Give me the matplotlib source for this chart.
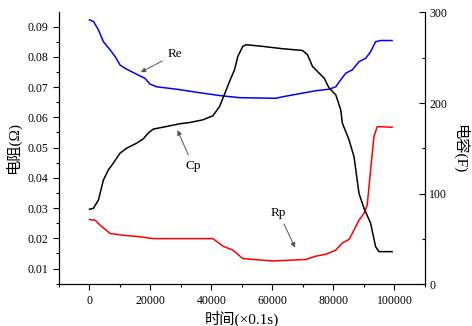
import matplotlib
matplotlib.use("Agg")
import matplotlib.pyplot as plt
from matplotlib.ticker import MultipleLocator, FormatStrFormatter

plt.rcParams['font.family'] = ['Liberation Serif', 'Noto Sans CJK SC']

# time (x0.1 s) and resistances (ohm)
t_re = [0, 1300, 2940, 4570, 6760, 8390, 10020, 11650, 14360, 16550, 18180, 19820,
        22000, 28530, 35050, 42660, 49190, 61160, 63330, 69840, 74220, 78560, 80740,
        82380, 84010, 86170, 88350, 90540, 92170, 93800, 95430, 99220]
re = [0.0922, 0.0917, 0.0889, 0.0850, 0.0823, 0.0801, 0.0773, 0.0762, 0.0748, 0.0737,
      0.0729, 0.0710, 0.0701, 0.0693, 0.0683, 0.0672, 0.0665, 0.0663, 0.0668, 0.0680,
      0.0688, 0.0693, 0.0701, 0.0724, 0.0746, 0.0757, 0.0784, 0.0795, 0.0817, 0.0850,
      0.0854, 0.0854]

t_rp = [0, 1860, 3500, 6760, 11100, 16550, 20890, 40470, 43730, 46990, 50260, 60050,
        70950, 74220, 77480, 80740, 82900, 85090, 86720, 88350, 89980, 91060, 92170,
        93250, 94330, 95960, 99220]
rp = [0.0262, 0.0260, 0.0243, 0.0216, 0.0210, 0.0205, 0.0199, 0.0199, 0.0174, 0.0161,
      0.0133, 0.0125, 0.0130, 0.0141, 0.0147, 0.0161, 0.0185, 0.0196, 0.0227, 0.0260,
      0.0282, 0.0310, 0.0426, 0.0536, 0.0569, 0.0569, 0.0567]

# capacitance (F)
t_cp = [0, 1300, 2940, 4570, 6200, 7830, 10020, 12210, 15470, 17620, 19260, 20890,
        25260, 29600, 32870, 37210, 40470, 42660, 44840, 45920, 47550, 48630, 50260,
        51370, 56790, 63320, 69840, 71480, 73110, 74740, 76930, 78560, 80740, 82380,
        82900, 85090, 86720, 88350, 89980, 92170, 93800, 94880, 99220]
cp = [82.8, 83.9, 93.1, 115.2, 126.3, 133.7, 144.7, 150.2, 155.7, 160.5, 166.8, 171.2,
      174.1, 177.1, 178.5, 181.5, 185.9, 196.2, 214.6, 223.8, 236.7, 251.4, 262.5,
      264.3, 262.5, 259.9, 258.0, 253.3, 240.4, 234.8, 227.5, 216.5, 209.1, 192.5,
      177.8, 159.4, 140.9, 100.5, 84.0, 67.4, 41.5, 36.0, 36.0]

fig = plt.figure(figsize=(4.72, 3.26), dpi=100)
ax = fig.add_axes([0.125, 0.128, 0.7754, 0.834])
ax2 = ax.twinx()

ax.plot(t_re, re, color='#0000ff', lw=1.1)
ax.plot(t_rp, rp, color='#ff0000', lw=1.1)
ax2.plot(t_cp, cp, color='black', lw=1.1)

ax.set_xlim(-10000, 110000)
ax.set_ylim(0.0048, 0.0947)
ax2.set_ylim(0, 300)

ax.xaxis.set_minor_locator(MultipleLocator(10000))
ax.set_xticks([0, 20000, 40000, 60000, 80000, 100000])
ax.yaxis.set_major_locator(MultipleLocator(0.01))
ax.yaxis.set_minor_locator(MultipleLocator(0.005))
ax.yaxis.set_major_formatter(FormatStrFormatter('%.2f'))
ax2.yaxis.set_major_locator(MultipleLocator(100))
ax2.yaxis.set_minor_locator(MultipleLocator(50))

for a in (ax, ax2):
    a.spines['top'].set_visible(False)
    a.tick_params(labelsize=8.5)
ax.tick_params(axis='both', which='major', direction='out', length=4, width=0.8)
ax.tick_params(axis='both', which='minor', direction='out', length=2.5, width=0.8)
ax2.tick_params(axis='y', which='major', direction='in', length=4, width=0.8, pad=3)
ax2.tick_params(axis='y', which='minor', direction='in', length=2.5, width=0.8)

ax.set_ylabel('电阻(Ω)', fontsize=11, labelpad=5)
ax2.set_ylabel('电容(F)', fontsize=11, rotation=-90, labelpad=15)
ax.set_xlabel('时间(×0.1s)', fontsize=11, labelpad=3)

arrow = dict(arrowstyle='-|>', color='#555555', lw=0.7, mutation_scale=7)
ax.annotate('Re', xy=(16000, 0.0745), xytext=(28000, 0.0808), fontsize=9.5,
            ha='center', va='center', arrowprops=arrow)
ax.annotate('Cp', xy=(28500, 0.0566), xytext=(34000, 0.0438), fontsize=9.5,
            ha='center', va='center', arrowprops=arrow)
ax.annotate('Rp', xy=(67800, 0.0161), xytext=(62000, 0.0285), fontsize=9.5,
            ha='center', va='center', arrowprops=arrow)

fig.savefig('out.png', dpi=100)
